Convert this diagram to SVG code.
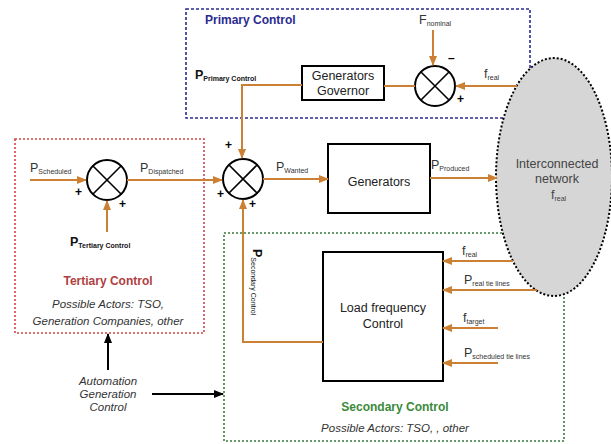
<svg xmlns="http://www.w3.org/2000/svg" width="611" height="444" viewBox="0 0 611 444">
<defs>
<marker id="ao" markerWidth="10" markerHeight="8" refX="9" refY="4" orient="auto" markerUnits="userSpaceOnUse"><path d="M0,0 L10,4 L0,8 Z" fill="#cc8033"/></marker>
<marker id="ab" markerWidth="10" markerHeight="8" refX="9" refY="4" orient="auto" markerUnits="userSpaceOnUse"><path d="M0,0 L10,4 L0,8 Z" fill="#000"/></marker>
</defs>
<style>
text{font-family:"Liberation Sans",Arial,sans-serif;fill:#333}
.l{font-size:12.5px}
.s{font-size:7px}
.b{font-weight:bold}
.t{font-size:12.5px;fill:#222}
.c{stroke:#cc8033;stroke-width:2;fill:none}
.k{stroke:#000;stroke-width:1.6;fill:none}
.j{stroke:#000;stroke-width:2;fill:#fff}
.box{stroke:#000;stroke-width:2;fill:#fff}
.pm{font-size:12px;font-weight:bold;fill:#000}
.it{font-size:11.5px;font-style:italic;fill:#333}
</style>
<rect width="611" height="444" fill="#fff"/>
<g id="regions">
<rect id="primary" x="186" y="9" width="344" height="109" fill="none" stroke="#2b2b8f" stroke-width="1.6" stroke-dasharray="3,2"/>
<rect id="tertiary" x="15" y="139" width="189" height="194" fill="none" stroke="#d04545" stroke-width="1.6" stroke-dasharray="2,2"/>
<rect id="secondary" x="224" y="233" width="340" height="208" fill="none" stroke="#3a7a3a" stroke-width="1.6" stroke-dasharray="2,2"/>
<text x="205" y="24" class="b" style="font-size:12px;fill:#2b2b8f">Primary Control</text>
<text x="108" y="285" class="b" text-anchor="middle" style="font-size:12px;fill:#b04040">Tertiary Control</text>
<text x="108" y="308" class="it" text-anchor="middle">Possible Actors: TSO,</text>
<text x="108" y="325" class="it" text-anchor="middle">Generation Companies, other</text>
<text x="395" y="411" class="b" text-anchor="middle" style="font-size:12px;fill:#3a8a3a">Secondary Control</text>
<text x="395" y="432" class="it" text-anchor="middle">Possible Actors: TSO, , other</text>
</g>
<g id="network">
<ellipse cx="554" cy="177" rx="58" ry="119" fill="#d6d6d6" stroke="#000" stroke-width="2" stroke-dasharray="2,2"/>
<text x="557" y="168" class="l" text-anchor="middle" style="fill:#444">Interconnected</text>
<text x="557" y="183" class="l" text-anchor="middle" style="fill:#444">network</text>
<text x="551" y="199" class="l" style="fill:#444">f<tspan class="s" dy="2">real</tspan></text>
</g>
<g id="governor">
<rect x="302" y="66" width="82" height="34" class="box"/>
<text x="343" y="80" class="t" text-anchor="middle">Generators</text>
<text x="343" y="95" class="t" text-anchor="middle">Governor</text>
</g>
<g id="generators">
<rect x="328" y="144" width="102" height="69" class="box"/>
<text x="379" y="186" class="t" text-anchor="middle">Generators</text>
</g>
<g id="lfc">
<rect x="323" y="252" width="120" height="129" class="box"/>
<text x="383" y="312" class="t" text-anchor="middle">Load frequency</text>
<text x="383" y="328" class="t" text-anchor="middle">Control</text>
</g>
<g id="sum-primary">
<circle cx="435" cy="86" r="20" class="j"/>
<path d="M421,72 L449,100 M449,72 L421,100" class="k"/>
<text x="448" y="62" class="pm">–</text>
<text x="457" y="103" class="pm">+</text>
</g>
<g id="sum-main">
<circle cx="243" cy="179" r="20" class="j"/>
<path d="M229,165 L257,193 M257,165 L229,193" class="k"/>
<text x="225" y="149" class="pm">+</text>
<text x="217" y="198" class="pm">+</text>
<text x="249" y="208" class="pm">+</text>
</g>
<g id="sum-tertiary">
<circle cx="107" cy="180" r="20" class="j"/>
<path d="M93,166 L121,194 M121,166 L93,194" class="k"/>
<text x="75" y="196" class="pm">+</text>
<text x="119" y="208" class="pm">+</text>
</g>
<g id="agc">
<text x="108" y="385" class="it" text-anchor="middle">Automation</text>
<text x="108" y="398" class="it" text-anchor="middle">Generation</text>
<text x="108" y="411" class="it" text-anchor="middle">Control</text>
</g>
<g id="labels">
<text x="195" y="79" class="l b" style="fill:#111">P<tspan class="s" dy="2">Primary Control</tspan></text>
<text x="419" y="24" class="l">F<tspan class="s" dy="2">nominal</tspan></text>
<text x="484" y="78" class="l">f<tspan class="s" dy="2">real</tspan></text>
<text x="30" y="172" class="l">P<tspan class="s" dy="2">Scheduled</tspan></text>
<text x="140" y="172" class="l">P<tspan class="s" dy="2">Dispatched</tspan></text>
<text x="70" y="246" class="l b" style="fill:#111">P<tspan class="s" dy="2">Tertiary Control</tspan></text>
<text x="276" y="171" class="l">P<tspan class="s" dy="2">Wanted</tspan></text>
<text x="431" y="169" class="l">P<tspan class="s" dy="2">Produced</tspan></text>
<text transform="translate(253,249) rotate(90)" class="l b" style="fill:#111">P<tspan class="s" dy="2" style="font-weight:normal">Secondary Control</tspan></text>
<text x="462" y="255" class="l">f<tspan class="s" dy="2">real</tspan></text>
<text x="464" y="284" class="l">P<tspan class="s" dy="2">real tie lines</tspan></text>
<text x="463" y="322" class="l">f<tspan class="s" dy="2">target</tspan></text>
<text x="464" y="357" class="l">P<tspan class="s" dy="2">scheduled tie lines</tspan></text>
</g>
<g id="connectors">
<path d="M415,86 L384,86" class="c"/>
<path d="M302,85 L242,85 L242,158" class="c" marker-end="url(#ao)"/>
<path d="M433,30 L433,65" class="c" marker-end="url(#ao)"/>
<path d="M517,86 L456,86" class="c" marker-end="url(#ao)"/>
<path d="M30,180 L86,180" class="c" marker-end="url(#ao)"/>
<path d="M107,232 L107,201" class="c" marker-end="url(#ao)"/>
<path d="M127,180 L222,180" class="c" marker-end="url(#ao)"/>
<path d="M263,179 L328,179" class="c" marker-end="url(#ao)"/>
<path d="M430,178 L497,178" class="c" marker-end="url(#ao)"/>
<path d="M323,342 L243,342 L243,200" class="c" marker-end="url(#ao)"/>
<path d="M513,261 L443,261" class="c" marker-end="url(#ao)"/>
<path d="M537,290 L443,290" class="c" marker-end="url(#ao)"/>
<path d="M498,328 L443,328" class="c" marker-end="url(#ao)"/>
<path d="M498,363 L443,363" class="c" marker-end="url(#ao)"/>
<path d="M108,370 L108,334" stroke="#000" stroke-width="2" marker-end="url(#ab)"/>
<path d="M152,394 L223,394" stroke="#000" stroke-width="2" marker-end="url(#ab)"/>
</g>
</svg>
